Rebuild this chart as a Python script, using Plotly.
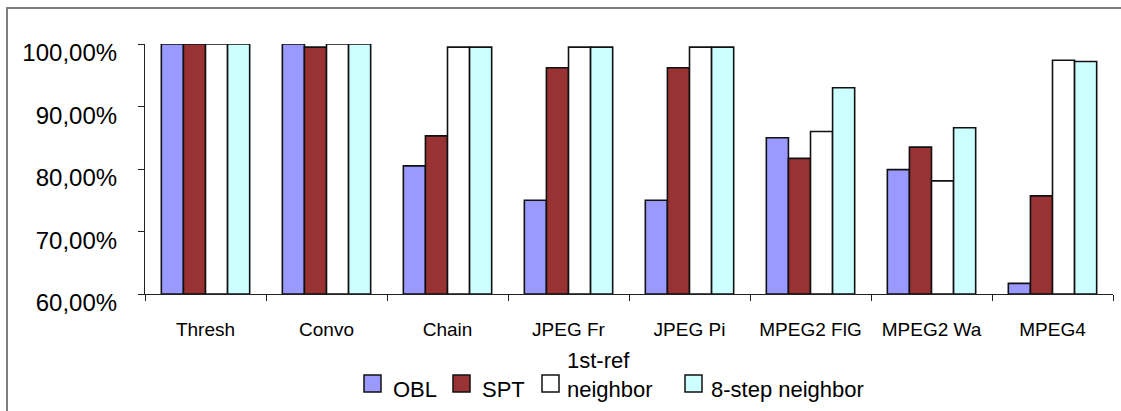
import plotly.graph_objects as go

categories = ["Thresh", "Convo", "Chain", "JPEG Fr", "JPEG Pi", "MPEG2 FlG", "MPEG2 Wa", "MPEG4"]
obl = [100.0, 100.0, 80.5, 75.0, 75.0, 85.0, 79.9, 61.7]
spt = [100.0, 99.5, 85.3, 96.2, 96.2, 81.7, 83.5, 75.7]
first_ref = [100.0, 100.0, 99.5, 99.5, 99.5, 86.0, 78.1, 97.4]
eight_step = [100.0, 100.0, 99.5, 99.5, 99.5, 93.0, 86.6, 97.2]

series_names = ["OBL", "SPT", "1st-ref neighbor", "8-step neighbor"]
legend_labels = ["OBL", "SPT", "1st-ref<br>neighbor", "8-step neighbor"]
series_values = [obl, spt, first_ref, eight_step]
series_colors = ["#9999FF", "#993333", "#FFFFFF", "#CCFFFF"]

y_tickvals = [60, 70, 80, 90, 100]
y_ticktext = ["60,00%", "70,00%", "80,00%", "90,00%", "100,00%"]

FONT = "Liberation Sans, Arial, sans-serif"

# plot-area geometry (pixels) used to place the hand-drawn legend
W, H = 1121, 411
L, R, T, B = 145, 8, 44, 117
PW, PH = W - L - R, H - T - B


def px(x):
    return (x - L) / PW


def py(y):
    return (H - B - y) / PH


fig = go.Figure()
for name, vals, col in zip(series_names, series_values, series_colors):
    fig.add_trace(go.Bar(
        x=categories, y=[v - 60 for v in vals], base=60, name=name,
        marker=dict(color=col, line=dict(color="#111111", width=1.6)),
        showlegend=False,
    ))

shapes = [dict(type="rect", xref="paper", yref="paper",
               x0=px(7), x1=px(1140), y0=py(440), y1=py(8),
               line=dict(color="#808080", width=2), layer="below")]
annotations = []

# legend layout: square left x, text left x
leg_sq_x = [364, 453, 542, 685]
leg_tx_x = [391, 480, 565, 709]
sq = 17
sq_top = 375
for i, col in enumerate(series_colors):
    shapes.append(dict(type="rect", xref="paper", yref="paper",
                       x0=px(leg_sq_x[i]), x1=px(leg_sq_x[i] + sq),
                       y0=py(sq_top + sq), y1=py(sq_top),
                       fillcolor=col, line=dict(color="#111111", width=1.5)))
    txt = legend_labels[i]
    n = txt.count("<br>") + 1
    yc = 389 - (n - 1) * 14.3
    annotations.append(dict(xref="paper", yref="paper", x=px(leg_tx_x[i]), y=py(yc),
                            xanchor="left", yanchor="middle", showarrow=False, align="left",
                            text=txt, font=dict(size=22, family=FONT, color="black")))

fig.update_layout(
    width=W, height=H,
    margin=dict(l=L, r=R, t=T, b=B, autoexpand=False),
    paper_bgcolor="white", plot_bgcolor="white",
    barmode="group", bargap=0.27, bargroupgap=0,
    font=dict(family=FONT, color="black"),
    showlegend=False,
    shapes=shapes,
    annotations=annotations,
)
fig.update_xaxes(
    type="category", showline=True, linecolor="#222222", linewidth=1.2,
    ticks="outside", ticklen=6, tickcolor="#222222", tickson="boundaries",
    tickfont=dict(size=19, family=FONT), ticklabelstandoff=18,
    showgrid=False, zeroline=False,
)
fig.update_yaxes(
    range=[60, 100], tickvals=y_tickvals, ticktext=y_ticktext,
    showline=True, linecolor="#222222", linewidth=1.2,
    ticks="outside", ticklen=6, tickcolor="#222222",
    tickfont=dict(size=24, family=FONT), ticklabelstandoff=16, ticklabelshift=9,
    showgrid=False, zeroline=False,
)
fig.write_html("out.html")
